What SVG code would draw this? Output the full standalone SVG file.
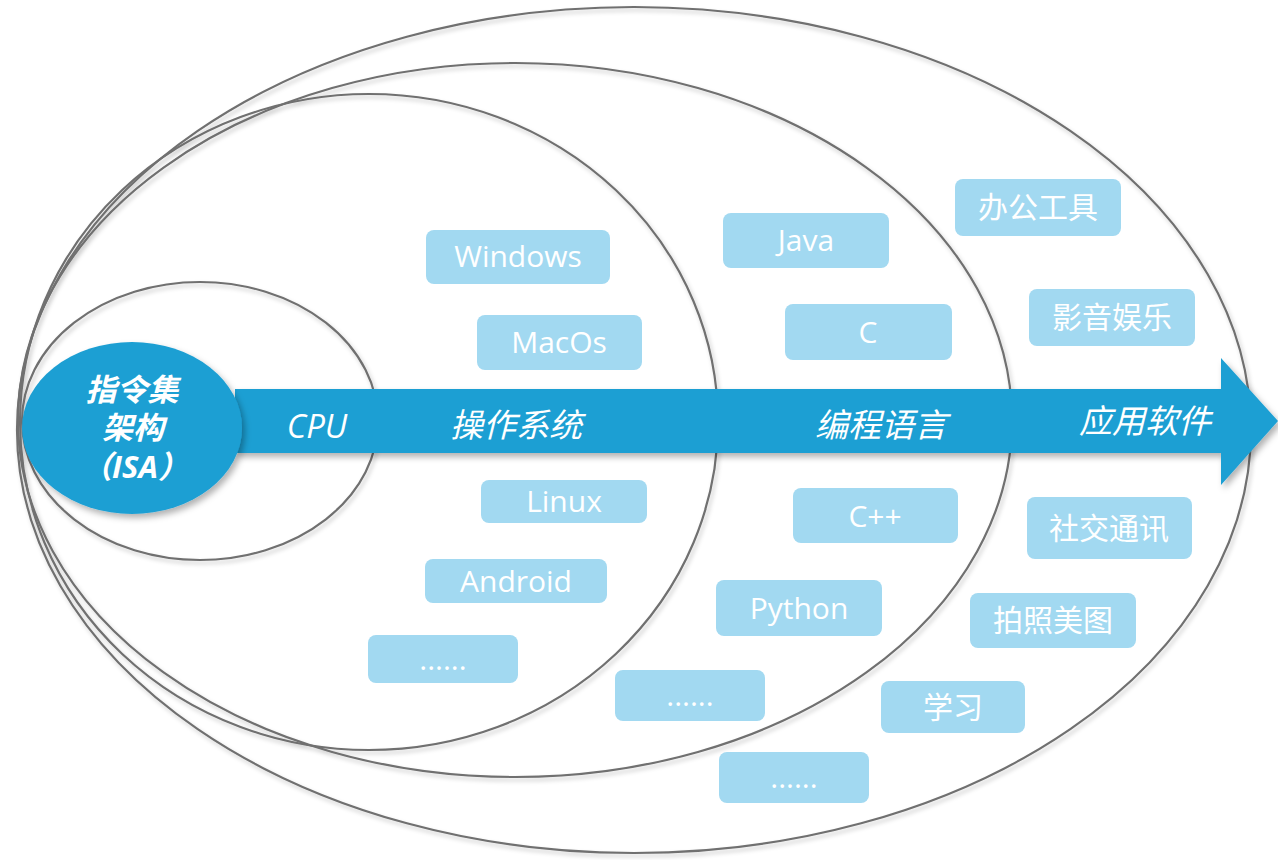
<svg xmlns="http://www.w3.org/2000/svg" width="1278" height="860" viewBox="0 0 1278 860">
<defs>
<filter id="sh" x="-5%" y="-5%" width="110%" height="110%">
<feDropShadow dx="2" dy="3" stdDeviation="2" flood-color="#000" flood-opacity="0.22"/>
</filter>
<filter id="sh2" x="-10%" y="-20%" width="120%" height="140%">
<feDropShadow dx="3" dy="4" stdDeviation="3" flood-color="#000" flood-opacity="0.3"/>
</filter>
<style>
.ring{fill:none;stroke:#707070;stroke-width:2.2}
.box{fill:#a2d9f1}
.bt{fill:#fff;font-family:'Open Sans','Noto Sans CJK SC',sans-serif;font-size:30px;text-anchor:middle}
.at{fill:#fff;font-family:'Open Sans','Noto Sans CJK SC',sans-serif;font-size:33px;font-style:italic;text-anchor:middle}
.it{fill:#fff;font-family:'Open Sans','Noto Sans CJK SC',sans-serif;font-size:31px;font-style:italic;font-weight:bold;text-anchor:middle}
</style>
</defs>
<rect width="1278" height="860" fill="#fff"/>
<g id="rings" filter="url(#sh)">
<ellipse id="ring-app" class="ring" cx="634" cy="430" rx="617" ry="423"/>
<ellipse id="ring-lang" class="ring" cx="515" cy="420" rx="497" ry="357"/>
<ellipse id="ring-os" class="ring" cx="369" cy="422" rx="349" ry="328"/>
<ellipse id="ring-cpu" class="ring" cx="200" cy="421" rx="178" ry="139"/>
</g>
<g id="connectors">
<polygon id="main-arrow" points="235,389 1221,389 1221,358 1278,421 1221,485 1221,453 235,453" fill="#1e9fd3" filter="url(#sh2)"/>
</g>
<g id="layer-labels">
<text class="at" x="317" y="438">CPU</text>
<text class="at" x="516" y="437">操作系统</text>
<text class="at" x="881" y="437">编程语言</text>
<text class="at" x="1145" y="433">应用软件</text>
</g>
<g id="isa">
<ellipse cx="132" cy="428" rx="110" ry="86" fill="#1e9fd3" filter="url(#sh2)"/>
<text class="it" x="132" y="401">指令集</text>
<text class="it" x="133" y="439">架构</text>
<text class="it" x="135" y="478">（ISA）</text>
</g>
<g id="n-windows"><rect class="box" x="426" y="230" width="184" height="54" rx="8"/><text class="bt" x="518" y="267">Windows</text></g>
<g id="n-macos"><rect class="box" x="477" y="315" width="165" height="55" rx="8"/><text class="bt" x="559" y="353">MacOs</text></g>
<g id="n-linux"><rect class="box" x="481" y="480" width="166" height="43" rx="8"/><text class="bt" x="564" y="512">Linux</text></g>
<g id="n-android"><rect class="box" x="425" y="559" width="182" height="44" rx="8"/><text class="bt" x="516" y="592">Android</text></g>
<g id="n-os-more"><rect class="box" x="368" y="635" width="150" height="48" rx="8"/><text class="bt" x="443" y="670">......</text></g>
<g id="n-java"><rect class="box" x="723" y="213" width="166" height="55" rx="8"/><text class="bt" x="806" y="251">Java</text></g>
<g id="n-c"><rect class="box" x="785" y="304" width="167" height="56" rx="8"/><text class="bt" x="868" y="343">C</text></g>
<g id="n-cpp"><rect class="box" x="793" y="488" width="165" height="55" rx="8"/><text class="bt" x="875" y="527">C++</text></g>
<g id="n-python"><rect class="box" x="716" y="580" width="166" height="56" rx="8"/><text class="bt" x="799" y="619">Python</text></g>
<g id="n-lang-more"><rect class="box" x="615" y="670" width="150" height="51" rx="8"/><text class="bt" x="690" y="706">......</text></g>
<g id="n-office"><rect class="box" x="955" y="179" width="166" height="57" rx="8"/><text class="bt" x="1038" y="218">办公工具</text></g>
<g id="n-media"><rect class="box" x="1029" y="289" width="166" height="57" rx="8"/><text class="bt" x="1112" y="328">影音娱乐</text></g>
<g id="n-social"><rect class="box" x="1027" y="497" width="165" height="62" rx="8"/><text class="bt" x="1109" y="539">社交通讯</text></g>
<g id="n-photo"><rect class="box" x="970" y="593" width="166" height="55" rx="8"/><text class="bt" x="1053" y="631">拍照美图</text></g>
<g id="n-study"><rect class="box" x="881" y="681" width="144" height="52" rx="8"/><text class="bt" x="953" y="718">学习</text></g>
<g id="n-app-more"><rect class="box" x="719" y="752" width="150" height="51" rx="8"/><text class="bt" x="794" y="788">......</text></g>
</svg>
